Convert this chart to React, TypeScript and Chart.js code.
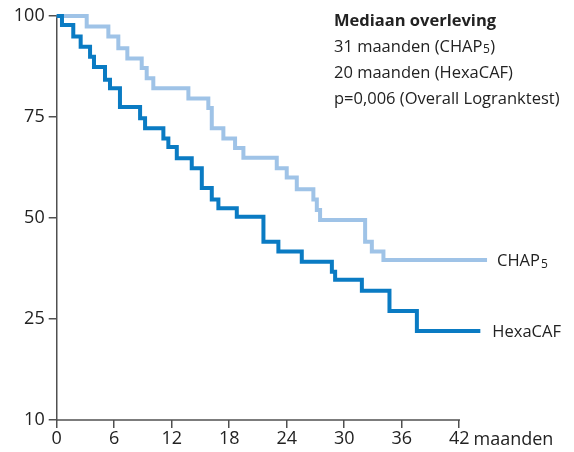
import React, { useEffect, useRef } from "react";
import { Chart, registerables } from "chart.js";

Chart.register(...registerables);

// CHAP5 (light blue): month of each drop and survival (%) after it
const chapMonths = [0, 3.13, 5.39, 6.43, 7.37, 8.87, 9.39, 10.08, 13.74, 15.82, 16.18, 17.39, 18.61, 19.48, 22.96, 24.0, 25.05, 26.78, 27.14, 27.48, 32.18, 32.88, 34.09, 44.9];
const chapSurvival = [100, 97.4, 94.9, 92.0, 89.5, 87.1, 84.6, 82.1, 79.6, 77.2, 72.2, 69.7, 67.3, 64.9, 62.3, 60.0, 57.1, 54.6, 52.0, 49.5, 44.1, 41.7, 39.6, 39.6];

// HexaCAF (dark blue)
const hexaMonths = [0, 0.55, 1.73, 2.5, 3.48, 3.89, 5.04, 5.56, 6.6, 8.7, 9.22, 11.13, 11.65, 12.53, 14.09, 15.14, 16.18, 16.87, 18.79, 21.57, 23.13, 25.57, 28.71, 29.05, 31.84, 34.72, 37.58, 44.2];
const hexaSurvival = [100, 97.8, 94.9, 92.4, 89.9, 87.4, 84.2, 82.1, 77.5, 74.7, 72.2, 69.7, 67.6, 64.8, 62.3, 57.4, 54.6, 52.4, 50.3, 44.1, 41.7, 39.2, 36.7, 34.7, 32.0, 27.0, 22.0, 22.0];

const xTickValues = [0, 6, 12, 18, 24, 30, 36, 42];
const yTickValues = [0, 25, 50, 75, 100];
const yTickLabels = ["10", "25", "50", "75", "100"];

const xUnitLabel = "maanden";
const seriesNames = ["HexaCAF", "CHAP5"];
const annotationTitle = "Mediaan overleving";
const annotationLines = ["31 maanden (CHAP5)", "20 maanden (HexaCAF)", "p=0,006 (Overall Logranktest)"];

const DARK = "#0a7bc3";
const LIGHT = "#9fc3e7";
const AXIS = "#505050";
const TEXT = "#222222";
const FONT = "'Open Sans', sans-serif";

function drawWithSub(ctx: CanvasRenderingContext2D, text: string, x: number, y: number, size: number, weight: string) {
  // renders "CHAP5" with a small 5
  const idx = text.indexOf("CHAP5");
  ctx.font = `${weight} ${size}px ${FONT}`;
  if (idx < 0) {
    ctx.fillText(text, x, y);
    return;
  }
  const before = text.slice(0, idx + 4);
  const after = text.slice(idx + 5);
  ctx.fillText(before, x, y);
  let cx = x + ctx.measureText(before).width;
  ctx.font = `${weight} ${Math.round(size * 0.72)}px ${FONT}`;
  ctx.fillText("5", cx + 0.5, y + size * 0.16);
  cx += ctx.measureText("5").width + 1;
  ctx.font = `${weight} ${size}px ${FONT}`;
  ctx.fillText(after, cx, y);
}

const decorPlugin = {
  id: "decor",
  afterDraw(chart: any) {
    const ctx: CanvasRenderingContext2D = chart.ctx;
    const xs = chart.scales.x;
    const ys = chart.scales.y;
    ctx.save();
    // x axis line from 0 to 42
    ctx.strokeStyle = AXIS;
    ctx.lineWidth = 1.5;
    ctx.beginPath();
    const y0 = ys.getPixelForValue(0);
    ctx.moveTo(xs.getPixelForValue(0), y0);
    ctx.lineTo(xs.getPixelForValue(42) + 0.75, y0);
    ctx.stroke();

    // unit label after 42
    ctx.fillStyle = TEXT;
    ctx.font = `18px ${FONT}`;
    ctx.textBaseline = "middle";
    ctx.textAlign = "left";
    const w42 = ctx.measureText("42").width;
    ctx.fillText(xUnitLabel, xs.getPixelForValue(42) + w42 / 2 + 4, 440);

    // series labels at line ends
    const hexaEndX = xs.getPixelForValue(hexaMonths[hexaMonths.length - 1]);
    const hexaEndY = ys.getPixelForValue(hexaSurvival[hexaSurvival.length - 1]);
    const chapEndX = xs.getPixelForValue(chapMonths[chapMonths.length - 1]);
    const chapEndY = ys.getPixelForValue(chapSurvival[chapSurvival.length - 1]);
    ctx.font = `16.5px ${FONT}`;
    ctx.fillText(seriesNames[0], hexaEndX + 12, hexaEndY + 1);
    ctx.fillText("CHAP", chapEndX + 10, chapEndY + 1);
    const wc = ctx.measureText("CHAP").width;
    ctx.font = `12px ${FONT}`;
    ctx.fillText("5", chapEndX + 10 + wc + 1, chapEndY + 5);

    // annotation block
    ctx.textBaseline = "middle";
    ctx.font = `bold 16.5px ${FONT}`;
    ctx.fillText(annotationTitle, 334, 21);
    annotationLines.forEach((t, i) => {
      drawWithSub(ctx, t, 334, 47 + i * 26.3, 16.5, "normal");
    });
    ctx.restore();
  },
};

export default function App() {
  const ref = useRef<HTMLCanvasElement | null>(null);
  useEffect(() => {
    document.body.style.margin = "0";
    const canvas = ref.current!;
    const chart = new Chart(canvas, {
      type: "line",
      data: {
        datasets: [
          {
            label: seriesNames[0],
            data: hexaMonths.map((m, i) => ({ x: m, y: hexaSurvival[i] })),
            borderColor: DARK,
            borderWidth: 4,
            stepped: "before",
            pointRadius: 0,
            fill: false,
            clip: false as any,
          },
          {
            label: seriesNames[1],
            data: chapMonths.map((m, i) => ({ x: m, y: chapSurvival[i] })),
            borderColor: LIGHT,
            borderWidth: 4,
            stepped: "before",
            pointRadius: 0,
            fill: false,
            clip: false as any,
          },
        ],
      },
      options: {
        animation: false,
        responsive: false,
        devicePixelRatio: 1,
        layout: { padding: { top: 16, right: 86, left: 0, bottom: 0 } },
        plugins: { legend: { display: false }, tooltip: { enabled: false } },
        scales: {
          x: {
            type: "linear",
            min: 0,
            max: 45,
            border: { display: false },
            grid: { drawOnChartArea: false, drawTicks: true, tickLength: 8, color: AXIS, lineWidth: 1.5 },
            afterBuildTicks: (s: any) => {
              s.ticks = xTickValues.map((v) => ({ value: v }));
            },
            afterFit: (s: any) => {
              s.height = 32;
            },
            ticks: {
              color: TEXT,
              font: { family: FONT, size: 18 },
              padding: 0,
              maxRotation: 0,
              autoSkip: false,
              callback: (v: any) => String(v),
            },
          },
          y: {
            type: "linear",
            min: 0,
            max: 100,
            border: { display: true, color: AXIS, width: 1.5 },
            grid: { drawOnChartArea: false, drawTicks: true, tickLength: 8, color: AXIS, lineWidth: 1.5 },
            afterBuildTicks: (s: any) => {
              s.ticks = yTickValues.map((v) => ({ value: v }));
            },
            afterFit: (s: any) => {
              s.width = 56.7;
            },
            ticks: {
              color: TEXT,
              font: { family: FONT, size: 18 },
              padding: 4,
              autoSkip: false,
              callback: (v: any) => {
                const i = yTickValues.indexOf(Number(v));
                return i >= 0 ? yTickLabels[i] : "";
              },
            },
          },
        },
      },
      plugins: [decorPlugin],
    });
    return () => chart.destroy();
  }, []);
  return (
    <div style={{ width: 574, height: 452, position: "relative", background: "#fff" }}>
      <canvas ref={ref} width={574} height={452} style={{ display: "block" }} />
    </div>
  );
}
